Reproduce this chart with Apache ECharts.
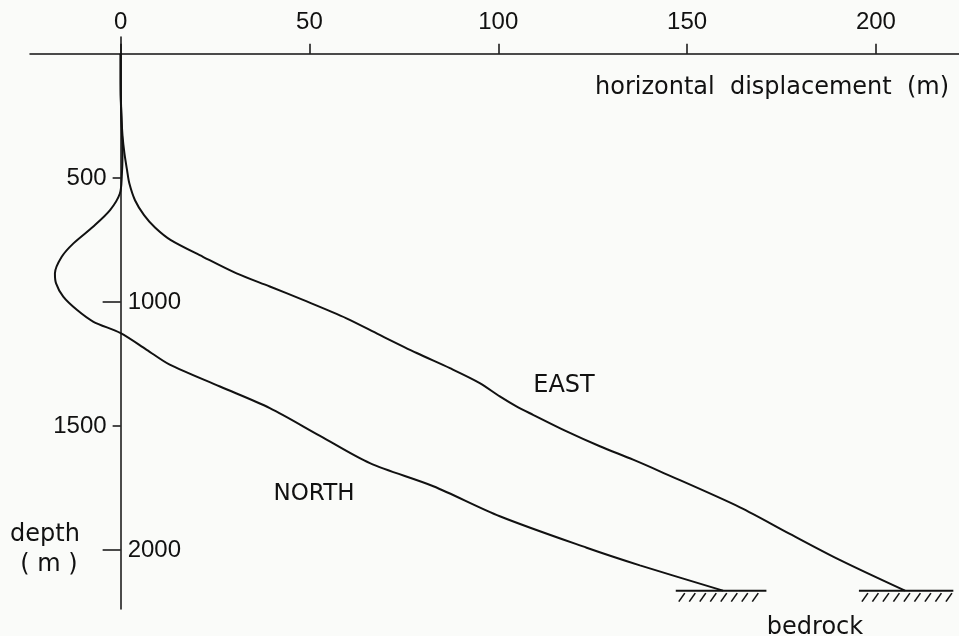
<!DOCTYPE html>
<html>
<head>
<meta charset="utf-8">
<script src="https://cdn.jsdelivr.net/npm/echarts@6/dist/echarts.min.js"></script>
<style>html,body{margin:0;padding:0;background:#fafbf9;}#chart{width:959px;height:636px;}</style>
</head>
<body>
<div id="chart"></div>
<script>
// ---- data ----
const dispTicks = [0, 50, 100, 150, 200];
const depthTicksLeft = [500, 1500];
const depthTicksRight = [1000, 2000];
const depthTicksAll = [500, 1000, 1500, 2000];

const northDepth = [0, 100, 200, 300, 400, 496, 563, 630, 697, 764, 818, 885, 925, 979, 1032, 1079, 1126, 1193, 1253, 1341, 1428, 1540, 1650, 1743, 1864, 1991, 2062, 2164];
const northDisp  = [0, 0, 0.1, 0.3, 0.5, 0.3, -0.2, -2.8, -7.3, -12.5, -15.6, -17.4, -17.1, -15.2, -11.6, -7.3, 0, 6.9, 13, 26.3, 39.5, 52.8, 66, 82.8, 100.4, 123.4, 137.5, 159.5];

const eastDepth = [0, 150, 250, 330, 400, 469, 522, 590, 650, 700, 751, 818, 885, 938, 992, 1066, 1133, 1206, 1267, 1327, 1381, 1421, 1455, 1522, 1582, 1636, 1683, 1828, 1935, 2040, 2164];
const eastDisp  = [0, 0, 0.2, 0.5, 1.0, 1.7, 2.3, 3.8, 6.2, 9.1, 13.3, 21.8, 30.7, 39.5, 48.3, 59.8, 68.6, 78.4, 87.2, 95.1, 100.4, 104.8, 109.2, 118.1, 126.9, 135.7, 142.8, 164, 177.2, 190.4, 207.7];

const bedrockDepth = 2164;
const bedrockSpans = [[147, 171], [195.5, 220.5]];

// ---- chart ----
const ink = '#111';
const numFont = 'Liberation Sans';

const gridLeft = 30, gridTop = 37, gridWidth = 929, gridHeight = 572;
const xMin = -24, xMax = 222;
const yMin = -68, yMax = 2238;
const x0px = gridWidth * (0 - xMin) / (xMax - xMin);
const y0px = gridHeight * (0 - yMin) / (yMax - yMin);

const chart = echarts.init(document.getElementById('chart'), null, {renderer: 'canvas'});

const plain = v => String(v);

const option = {
  backgroundColor: '#fafbf9',
  animation: false,
  grid: {left: gridLeft, top: gridTop, width: gridWidth, height: gridHeight, containLabel: false, outerBoundsMode: 'none'},
  xAxis: {
    type: 'value', position: 'top', offset: -y0px, min: xMin, max: xMax,
    axisLine: {show: true, onZero: false, lineStyle: {color: ink, width: 1.5}},
    axisTick: {show: true, length: 10, customValues: dispTicks, lineStyle: {color: ink, width: 1.5}},
    axisLabel: {show: true, customValues: dispTicks, formatter: plain, margin: 19, color: ink, fontFamily: numFont, fontSize: 24},
    splitLine: {show: false}
  },
  yAxis: [
    {
      type: 'value', position: 'left', offset: -x0px, inverse: true, min: yMin, max: yMax,
      axisLine: {show: true, onZero: false, lineStyle: {color: ink, width: 1.5}},
      axisTick: {show: true, length: 8, customValues: depthTicksAll, lineStyle: {color: ink, width: 1.5}},
      axisLabel: {show: true, customValues: depthTicksLeft, formatter: plain, margin: 14, color: ink, fontFamily: numFont, fontSize: 24},
      splitLine: {show: false}
    },
    {
      type: 'value', position: 'right', offset: -(gridWidth - x0px), inverse: true, min: yMin, max: yMax,
      axisLine: {show: false, onZero: false},
      axisTick: {show: true, inside: true, length: 18, customValues: depthTicksRight, lineStyle: {color: ink, width: 1.5}},
      axisLabel: {show: true, customValues: depthTicksRight, formatter: plain, margin: 7, color: ink, fontFamily: numFont, fontSize: 24},
      splitLine: {show: false}
    }
  ],
  series: [
    {
      name: 'NORTH', type: 'line', smooth: 0.3, showSymbol: false, symbol: 'none',
      data: northDepth.map((d, i) => [northDisp[i], d]),
      lineStyle: {color: ink, width: 2}, z: 5
    },
    {
      name: 'EAST', type: 'line', smooth: 0.3, showSymbol: false, symbol: 'none',
      data: eastDepth.map((d, i) => [eastDisp[i], d]),
      lineStyle: {color: ink, width: 2}, z: 5
    },
    {
      name: 'bedrock', type: 'custom', clip: false,
      encode: {x: [0, 1], y: 2},
      data: bedrockSpans.map(s => [s[0], s[1], bedrockDepth]),
      renderItem: function (params, api) {
        const p1 = api.coord([api.value(0), api.value(2)]);
        const p2 = api.coord([api.value(1), api.value(2)]);
        const children = [{
          type: 'line',
          shape: {x1: p1[0], y1: p1[1], x2: p2[0], y2: p2[1]},
          style: {stroke: ink, lineWidth: 2}
        }];
        for (let x = p1[0] + 9; x <= p2[0] + 1; x += 10.5) {
          children.push({
            type: 'line',
            shape: {x1: x, y1: p1[1] + 2.5, x2: x - 6, y2: p1[1] + 11},
            style: {stroke: ink, lineWidth: 1.6}
          });
        }
        return {type: 'group', children: children};
      },
      z: 6
    }
  ],
  graphic: [
    {type: 'text', left: 595, top: 76, style: {text: 'horizontal  displacement  (m)', font: '24px "DejaVu Sans"', fill: ink}},
    {type: 'text', x: 564, y: 385.5, style: {text: 'EAST', font: '24px "DejaVu Sans"', fill: ink, align: 'center', verticalAlign: 'middle'}},
    {type: 'text', x: 314, y: 494, style: {text: 'NORTH', font: '23px "DejaVu Sans"', fill: ink, align: 'center', verticalAlign: 'middle'}},
    {type: 'text', x: 45, y: 535, style: {text: 'depth', font: '24px "DejaVu Sans"', fill: ink, align: 'center', verticalAlign: 'middle'}},
    {type: 'text', x: 49, y: 565, style: {text: '( m )', font: '24px "DejaVu Sans"', fill: ink, align: 'center', verticalAlign: 'middle'}},
    {type: 'text', x: 815, y: 628, style: {text: 'bedrock', font: '24px "DejaVu Sans"', fill: ink, align: 'center', verticalAlign: 'middle'}}
  ]
};
chart.setOption(option);
</script>
</body>
</html>
